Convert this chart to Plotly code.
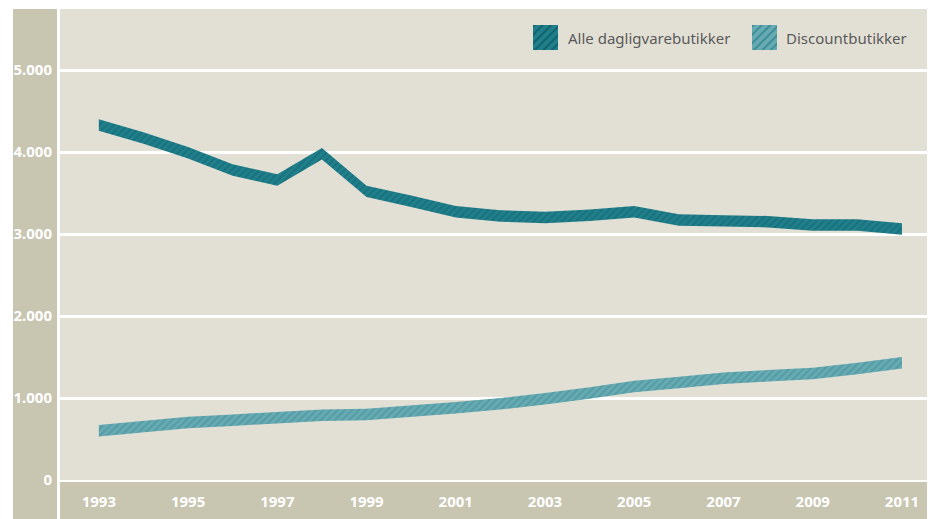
import base64
import plotly.graph_objects as go

years = list(range(1993, 2012))
alle = [4330, 4170, 3990, 3780, 3660, 3980, 3520, 3400, 3270, 3220, 3200, 3230, 3270, 3170, 3160, 3150, 3110, 3110, 3060]
discount = [600, 650, 700, 730, 760, 790, 800, 840, 880, 930, 990, 1060, 1140, 1190, 1240, 1270, 1300, 1360, 1430]
series_names = ["Alle dagligvarebutikker", "Discountbutikker"]
y_tickvals = [0, 1000, 2000, 3000, 4000, 5000]
y_ticktext = ["0", "1.000", "2.000", "3.000", "4.000", "5.000"]
x_tickvals = [1993, 1995, 1997, 1999, 2001, 2003, 2005, 2007, 2009, 2011]

BG = "#e2e0d5"
STRIP = "#c8c5b1"
HW = 70  # half band thickness in data units

W, H = 927, 511
ML, MT, MB = 52, 1, 39
PW, PH = W - ML, H - MT - MB

styles = [
    dict(fill="#1f7f8b", fg="#13636e"),
    dict(fill="#68aab2", fg="#3c8e99"),
]


def hatch_svg(fill, fg):
    svg = (
        '<svg xmlns="http://www.w3.org/2000/svg" width="25" height="25">'
        '<defs><pattern id="p" width="6" height="6" patternUnits="userSpaceOnUse" '
        'patternTransform="rotate(45)">'
        f'<rect width="6" height="6" fill="{fill}"/>'
        f'<rect width="2" height="6" fill="{fg}"/></pattern></defs>'
        '<rect width="25" height="25" fill="url(#p)"/></svg>'
    )
    return "data:image/svg+xml;base64," + base64.b64encode(svg.encode()).decode()


fig = go.Figure()
for name, vals, st in zip(series_names, [alle, discount], styles):
    lo = [v - HW for v in vals]
    hi = [v + HW for v in vals]
    fig.add_trace(go.Scatter(x=years, y=lo, mode="lines", line=dict(width=0, color=st["fill"]),
                             showlegend=False, hoverinfo="skip"))
    fig.add_trace(go.Scatter(x=years, y=hi, mode="lines", line=dict(width=0, color=st["fill"]),
                             fill="tonexty", fillcolor=st["fill"],
                             fillpattern=dict(shape="/", fgcolor=st["fg"], bgcolor=st["fill"],
                                              size=5, solidity=0.4),
                             name=name, showlegend=False))


def px_x(page_x):
    return (page_x - 8 - ML) / PW


def px_y(page_y):
    return 1 - (page_y - 8 - MT) / PH


legend_items = [(533, 566), (752, 784)]
images, annotations = [], []
for (sq_x, tx_x), name, st in zip(legend_items, series_names, styles):
    images.append(dict(source=hatch_svg(st["fill"], st["fg"]), xref="paper", yref="paper",
                       x=px_x(sq_x), y=px_y(25), sizex=25 / PW, sizey=25 / PH,
                       xanchor="left", yanchor="top", sizing="stretch", layer="above"))
    annotations.append(dict(text=name, xref="paper", yref="paper", x=px_x(tx_x), y=px_y(38),
                            xanchor="left", yanchor="middle", showarrow=False,
                            font=dict(size=15, color="#5a5a5a", family="Noto Sans")))

fig.update_layout(
    width=W, height=H,
    margin=dict(l=ML, r=0, t=MT, b=MB),
    paper_bgcolor="white",
    plot_bgcolor=BG,
    font=dict(family="Noto Sans", color="white"),
    showlegend=False,
    images=images,
    annotations=annotations,
    shapes=[
        dict(type="rect", xref="paper", yref="paper", x0=px_x(13), x1=px_x(57), y0=-MB / PH, y1=1,
             fillcolor=STRIP, line=dict(width=0), layer="below"),
        dict(type="rect", xref="paper", yref="paper", x0=0, x1=1, y0=-MB / PH, y1=-2 / PH,
             fillcolor=STRIP, line=dict(width=0), layer="below"),
    ],
)
fig.update_xaxes(range=[1992.13, 2011.74], tickvals=x_tickvals, showgrid=False, zeroline=False,
                 ticks="outside", ticklen=8, tickcolor="rgba(0,0,0,0)",
                 tickfont=dict(size=15, color="white", family="Noto Sans", weight="bold"))
fig.update_yaxes(range=[0, 5744], tickvals=y_tickvals, ticktext=y_ticktext,
                 showgrid=True, gridcolor="white", gridwidth=2.5, zeroline=False,
                 ticks="outside", ticklen=4, tickcolor="rgba(0,0,0,0)",
                 tickfont=dict(size=15, color="white", family="Noto Sans", weight="bold"))

fig.write_html("out.html")
